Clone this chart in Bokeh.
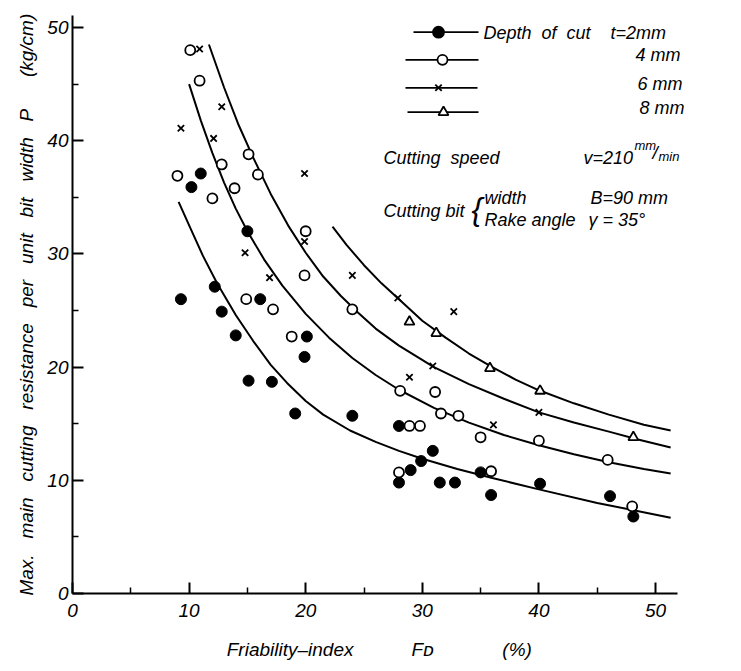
from bokeh.plotting import figure
from bokeh.models import Label, FixedTicker
from bokeh.embed import file_html
from bokeh.resources import INLINE

# ---------------- data ----------------
# t = 2 mm (filled circles)
f_2mm = [9.3, 10.2, 11.0, 12.2, 12.8, 14.0, 15.0, 15.1, 16.1, 17.1, 19.1, 19.9, 20.1,
         24.0, 28.0, 28.0, 29.0, 29.9, 30.9, 31.5, 32.8, 35.0, 35.9, 40.1, 46.1, 48.1]
p_2mm = [26.0, 35.9, 37.1, 27.1, 24.9, 22.8, 32.0, 18.8, 26.0, 18.7, 15.9, 20.9, 22.7,
         15.7, 14.8, 9.8, 10.9, 11.7, 12.6, 9.8, 9.8, 10.7, 8.7, 9.7, 8.6, 6.8]
# t = 4 mm (open circles)
f_4mm = [9.0, 10.1, 10.9, 12.0, 12.8, 13.9, 14.9, 15.1, 15.9, 17.2, 18.8, 19.9, 20.0,
         24.0, 28.0, 28.1, 28.9, 29.8, 31.1, 31.6, 33.1, 35.0, 35.9, 40.0, 45.9, 48.0]
p_4mm = [36.9, 48.0, 45.3, 34.9, 37.9, 35.8, 26.0, 38.8, 37.0, 25.1, 22.7, 28.1, 32.0,
         25.1, 10.7, 17.9, 14.8, 14.8, 17.8, 15.9, 15.7, 13.8, 10.8, 13.5, 11.8, 7.7]
# t = 6 mm (crosses)
f_6mm = [9.3, 10.9, 12.1, 12.8, 14.8, 16.9, 19.9, 19.9, 24.0, 27.9, 28.9, 30.9, 32.7, 36.1, 40.0]
p_6mm = [41.1, 48.1, 40.2, 43.0, 30.1, 27.9, 37.1, 31.1, 28.1, 26.1, 19.1, 20.1, 24.9, 14.9, 16.0]
# t = 8 mm (triangles)
f_8mm = [28.9, 31.2, 35.8, 40.1, 48.1]
p_8mm = [24.0, 23.0, 19.9, 17.9, 13.8]

# fitted curves, points
cx_2mm = [9.1, 10.1, 11.2, 12.4, 14.0, 15.5, 17.0, 18.4, 20.0, 21.5, 23.8, 26.0, 28.0,
          30.0, 33.0, 36.0, 40.0, 45.0, 51.3]
cy_2mm = [34.6, 32.3, 29.8, 27.4, 24.6, 22.3, 20.2, 18.6, 17.0, 15.8, 14.4, 13.4, 12.6,
          11.9, 11.0, 10.2, 9.2, 8.0, 6.7]
cx_4mm = [10.0, 11.0, 12.0, 13.0, 14.0, 15.0, 16.5, 18.0, 20.0, 22.0, 24.0, 26.0, 28.0,
          31.0, 34.0, 37.0, 40.0, 43.0, 46.0, 49.0, 51.3]
cy_4mm = [45.0, 41.8, 38.9, 36.3, 34.0, 32.0, 29.4, 27.2, 24.7, 22.6, 20.8, 19.3, 18.0,
          16.4, 15.1, 14.0, 13.1, 12.3, 11.6, 11.0, 10.6]
cx_6mm = [11.7, 13.0, 14.2, 15.5, 17.0, 18.5, 20.0, 21.5, 23.0, 24.5, 26.0, 28.0, 31.0,
          34.0, 37.0, 40.0, 43.0, 46.0, 48.5, 51.3]
cy_6mm = [48.5, 44.7, 41.5, 38.5, 35.3, 32.5, 30.1, 28.0, 26.3, 24.8, 23.4, 21.9, 20.0,
          18.5, 17.2, 16.0, 15.1, 14.3, 13.6, 12.9]
cx_8mm = [22.3, 23.5, 25.0, 26.5, 28.0, 30.0, 32.0, 34.0, 36.0, 38.0, 40.0, 43.0, 46.0,
          49.0, 51.3]
cy_8mm = [32.4, 30.8, 29.0, 27.4, 26.0, 24.1, 22.6, 21.2, 20.0, 18.9, 17.95, 16.8, 15.8,
          14.9, 14.4]

x_ticks = [0, 10, 20, 30, 40, 50]
x_minor = [5, 15, 25, 35, 45]
y_ticks = [0, 10, 20, 30, 40, 50]
y_minor = [5, 15, 25, 35, 45]

# ---------------- layout ----------------
PXX = 11.66   # pixels per unit x
PXY = 11.32   # pixels per unit y
OX, OY = 72, 593   # picture position of origin
FW, FH = 640, 583
TOP = 10


def dx(px):
    return (px - OX) / PXX


def dy(py):
    return (OY - py) / PXY


FONT = "Liberation Sans"
NB = "\u00a0"

p = figure(frame_width=FW, frame_height=FH,
           min_border_left=OX, min_border_right=25,
           min_border_top=TOP, min_border_bottom=70,
           x_range=(0, FW / PXX), y_range=(0, FH / PXY),
           output_backend="svg", toolbar_location=None)
p.outline_line_color = None
p.xgrid.grid_line_color = None
p.ygrid.grid_line_color = None
p.background_fill_color = "white"
p.border_fill_color = "white"

for ax, ticks, minor, bnd in ((p.xaxis[0], x_ticks, x_minor, (0, 51.9)),
                              (p.yaxis[0], y_ticks, y_minor, (0, 51.1))):
    ax.ticker = FixedTicker(ticks=ticks, minor_ticks=minor)
    ax.bounds = bnd
    ax.axis_line_width = 2
    ax.axis_line_color = "black"
    ax.major_tick_line_width = 2
    ax.minor_tick_line_width = 1.5
    ax.major_tick_in = 11
    ax.major_tick_out = 0
    ax.minor_tick_in = 6
    ax.minor_tick_out = 0
    ax.major_label_text_font = FONT
    ax.major_label_text_font_style = "italic"
    ax.major_label_text_font_size = "19px"
    ax.major_label_text_color = "black"
    ax.axis_label_text_font = FONT
    ax.axis_label_text_font_style = "italic"
    ax.axis_label_text_font_size = "19px"
    ax.axis_label_text_color = "black"
p.xaxis.major_label_standoff = 10
p.yaxis.major_label_standoff = 4

ylab_words = ["Max.", "main", "cutting", "resistance", "per", "unit", "bit", "width"]
ytxt = (NB * 3).join(ylab_words)
ytxt += NB * 3 + "P" + NB * 6 + "(kg/cm)" + NB
p.yaxis.axis_label = ytxt
p.yaxis.axis_label_standoff = 7

p.xaxis.axis_label = "Friability\u2013index" + NB * 11 + "F\u1d05" + NB * 13 + "(%)" + NB * 5
p.xaxis.axis_label_standoff = 19

LW = 2
for cx, cy in ((cx_2mm, cy_2mm), (cx_4mm, cy_4mm), (cx_6mm, cy_6mm), (cx_8mm, cy_8mm)):
    p.line(cx, cy, line_color="black", line_width=LW)

p.scatter(f_2mm, p_2mm, marker="circle", size=11, fill_color="black", line_color="black")
p.scatter(f_4mm, p_4mm, marker="circle", size=10, fill_color="white", line_color="black", line_width=1.8)
p.scatter(f_6mm, p_6mm, marker="x", size=9, line_color="black", line_width=1.8)
p.scatter(f_8mm, p_8mm, marker="triangle", size=10, fill_color="white", line_color="black", line_width=1.8)

# legend samples (layout, picture pixels)
leg = [  # (x0, x1, y, marker x, marker, fill, size)
    (413, 478, 31.7, 438, "circle", "black", 11),
    (405, 478, 59.3, 442, "circle", "white", 10),
    (405, 477, 87.3, 438, "x", None, 9),
    (407, 478, 111.7, 443, "triangle", "white", 10),
]
for x0, x1, yy, xm, mk, fc, sz in leg:
    p.line([dx(x0), dx(x1)], [dy(yy), dy(yy)], line_color="black", line_width=1.8)
    p.scatter([dx(xm)], [dy(yy)], marker=mk, size=sz, fill_color=fc, line_color="black", line_width=1.8)


def lab(txt, px, py, size="18px", align="left", baseline="middle"):
    p.add_layout(Label(x=dx(px), y=dy(py), text=txt, text_font=FONT, text_font_style="italic",
                       text_font_size=size, text_align=align, text_baseline=baseline,
                       text_color="black"))


lab("Depth" + NB * 2 + "of" + NB * 2 + "cut", 483, 32)
lab("t=2mm", 610, 32)
lab("4 mm", 635, 54)
lab("6 mm", 637, 83)
lab("8 mm", 639, 107)
lab("Cutting" + NB * 2 + "speed", 383, 157)
lab("v=210", 583, 157)
lab("mm", 634, 145, size="13px")
lab("/", 652, 152, size="19px")
lab("min", 658, 156, size="13px")
lab("Cutting" + NB + "bit", 383, 210)
lab("{", 471, 208, size="32px")
lab("width", 484, 197)
lab("Rake" + NB + "angle", 484, 219)
lab("B=90 mm", 590, 197)
lab("\u03b3 = 35\u00b0", 588, 219)

open("out.html", "w").write(file_html(p, INLINE))
